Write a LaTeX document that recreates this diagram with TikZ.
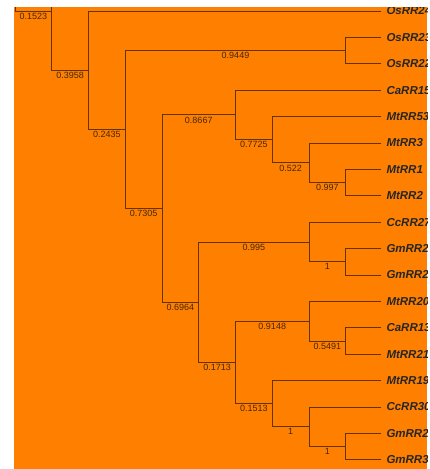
\documentclass[tikz,border=0pt]{standalone}
\usepackage{fontspec}
\setsansfont{Liberation Sans}
\definecolor{treebg}{RGB}{255,128,0}
\definecolor{branch}{RGB}{100,52,0}
\definecolor{support}{RGB}{70,38,0}
\tikzset{
  leaf/.style={anchor=west,inner xsep=5pt,inner ysep=1pt,
    font=\sffamily\bfseries\itshape\fontsize{11.5}{12}\selectfont,text=black!85},
  bs/.style={below,inner sep=1.5pt,font=\sffamily\fontsize{9}{10}\selectfont,text=support},
}

\begin{document}
\begin{tikzpicture}[x=1pt,y=-1pt,line width=1pt]
	\useasboundingbox (0,0) rectangle (430,469);
	\fill[treebg] (14,7) rectangle (427,469);
	\clip (14,7) rectangle (427,469);
	% leaves
	\node[leaf] (Os24) at (381,11) {OsRR24};
	\node[leaf] (Os23) at (381,37.4) {OsRR23};
	\node[leaf] (Os22) at (381,63.8) {OsRR22};
	\node[leaf] (Ca15) at (381,90.2) {CaRR15};
	\node[leaf] (Mt53) at (381,116.6) {MtRR53};
	\node[leaf] (Mt3) at (381,143) {MtRR3};
	\node[leaf] (Mt1) at (381,169.4) {MtRR1};
	\node[leaf] (Mt2) at (381,195.8) {MtRR2};
	\node[leaf] (Cc27) at (381,222.2) {CcRR27};
	\node[leaf] (GmA) at (381,248.6) {GmRR2};
	\node[leaf] (GmB) at (381,275) {GmRR2};
	\node[leaf] (Mt20) at (381,301.4) {MtRR20};
	\node[leaf] (Ca13) at (381,327.8) {CaRR13};
	\node[leaf] (Mt21) at (381,354.2) {MtRR21};
	\node[leaf] (Mt19) at (381,380.6) {MtRR19};
	\node[leaf] (Cc30) at (381,407) {CcRR30};
	\node[leaf] (GmC) at (381,433.4) {GmRR2};
	\node[leaf] (Gm3) at (381,459.8) {GmRR3};
	% inner nodes
	\coordinate (N0) at (15,-30);
	\coordinate (N1) at (51.75,11);
	\coordinate (up) at (88.5,-48.3);
	\coordinate (N2) at (88.5,70.3);
	\coordinate (N3) at (125.25,129.6);
	\coordinate (N4) at (345.75,50.6);
	\coordinate (N5) at (162,208.6);
	\coordinate (N6) at (235.5,114.95);
	\coordinate (N7) at (198.75,302.2);
	\coordinate (N8) at (272.25,139.7);
	\coordinate (N9) at (309,162.8);
	\coordinate (N10) at (345.75,182.6);
	\coordinate (N11) at (309,242);
	\coordinate (N12) at (235.5,362.45);
	\coordinate (N13) at (345.75,261.8);
	\coordinate (N14) at (309,321.2);
	\coordinate (N15) at (272.25,403.7);
	\coordinate (N16) at (345.75,341);
	\coordinate (N17) at (309,426.8);
	\coordinate (N18) at (345.75,446.6);
	\begin{scope}[draw=branch]
		\draw (N0) |- (N1) node[bs,pos=.75] {0.1523};
		\draw (N1) |- (up);
		\draw (N1) |- (N2) node[bs,pos=.75] {0.3958};
		\draw (N2) |- (Os24.west);
		\draw (N2) |- (N3) node[bs,pos=.75] {0.2435};
		\draw (N3) |- (N4) node[bs,pos=.75] {0.9449};
		\draw (N4) |- (Os23.west);
		\draw (N4) |- (Os22.west);
		\draw (N3) |- (N5) node[bs,pos=.75] {0.7305};
		\draw (N5) |- (N6) node[bs,pos=.75] {0.8667};
		\draw (N6) |- (Ca15.west);
		\draw (N6) |- (N8) node[bs,pos=.75] {0.7725};
		\draw (N8) |- (Mt53.west);
		\draw (N8) |- (N9) node[bs,pos=.75] {0.522};
		\draw (N9) |- (Mt3.west);
		\draw (N9) |- (N10) node[bs,pos=.75] {0.997};
		\draw (N10) |- (Mt1.west);
		\draw (N10) |- (Mt2.west);
		\draw (N5) |- (N7) node[bs,pos=.75] {0.6964};
		\draw (N7) |- (N11) node[bs,pos=.75] {0.995};
		\draw (N11) |- (Cc27.west);
		\draw (N11) |- (N13) node[bs,pos=.75] {1};
		\draw (N13) |- (GmA.west);
		\draw (N13) |- (GmB.west);
		\draw (N7) |- (N12) node[bs,pos=.75] {0.1713};
		\draw (N12) |- (N14) node[bs,pos=.75] {0.9148};
		\draw (N14) |- (Mt20.west);
		\draw (N14) |- (N16) node[bs,pos=.75] {0.5491};
		\draw (N16) |- (Ca13.west);
		\draw (N16) |- (Mt21.west);
		\draw (N12) |- (N15) node[bs,pos=.75] {0.1513};
		\draw (N15) |- (Mt19.west);
		\draw (N15) |- (N17) node[bs,pos=.75] {1};
		\draw (N17) |- (Cc30.west);
		\draw (N17) |- (N18) node[bs,pos=.75] {1};
		\draw (N18) |- (GmC.west);
		\draw (N18) |- (Gm3.west);
	\end{scope}
\end{tikzpicture}
\end{document}
